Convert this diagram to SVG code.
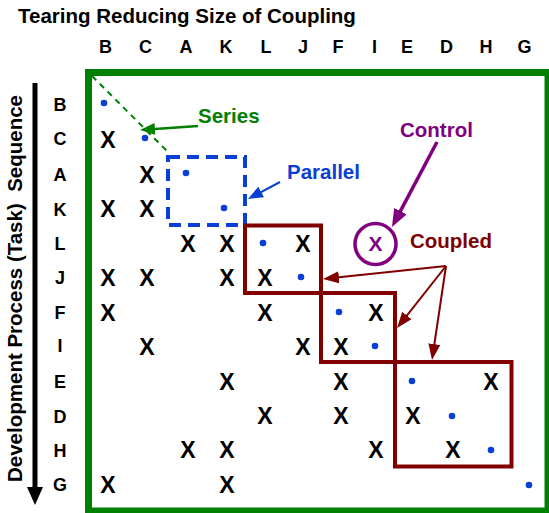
<svg xmlns="http://www.w3.org/2000/svg" width="549" height="513" viewBox="0 0 549 513">
  <style>
    text { font-family: "Liberation Sans", Arial, sans-serif; font-weight: bold; }
    .hdr { font-size: 18px; fill: #000; text-anchor: middle; }
    .title { font-size: 20.5px; fill: #000; }
    .axis { font-size: 20.5px; fill: #000; }
    .x { font-size: 23px; fill: #000; text-anchor: middle; }
    .dot { fill: #0a3fd6; }
    .lbl { font-size: 20.5px; }
    .green { fill: #008000; }
    .blue { fill: #0a3fd6; }
    .purple { fill: #800080; }
    .maroon { fill: #800000; }
    .box { fill: none; stroke: #800000; stroke-width: 4; }
  </style>
  <defs>
    <marker id="ah-green" markerUnits="userSpaceOnUse" markerWidth="15" markerHeight="12" refX="11" refY="6" orient="auto">
      <path d="M0,0 L15,6 L0,12 z" fill="#008000"/>
    </marker>
    <marker id="ah-blue" markerUnits="userSpaceOnUse" markerWidth="15" markerHeight="12" refX="11" refY="6" orient="auto">
      <path d="M0,0 L15,6 L0,12 z" fill="#0a3fd6"/>
    </marker>
    <marker id="ah-purple" markerUnits="userSpaceOnUse" markerWidth="18" markerHeight="14" refX="13" refY="7" orient="auto">
      <path d="M0,0 L18,7 L0,14 z" fill="#800080"/>
    </marker>
    <marker id="ah-maroon" markerUnits="userSpaceOnUse" markerWidth="16" markerHeight="12" refX="12" refY="6" orient="auto">
      <path d="M0,0 L16,6 L0,12 z" fill="#800000"/>
    </marker>
  </defs>

  <rect width="549" height="513" fill="#fff"/>

  <!-- title -->
  <text class="title" x="18" y="23">Tearing Reducing Size of Coupling</text>

  <!-- column headers -->
  <g id="columns">
    <text class="hdr" x="105.5" y="53">B</text>
    <text class="hdr" x="145.5" y="53">C</text>
    <text class="hdr" x="186" y="53">A</text>
    <text class="hdr" x="226" y="53">K</text>
    <text class="hdr" x="266" y="53">L</text>
    <text class="hdr" x="303" y="53">J</text>
    <text class="hdr" x="338" y="53">F</text>
    <text class="hdr" x="374.5" y="53">I</text>
    <text class="hdr" x="407" y="53">E</text>
    <text class="hdr" x="446.5" y="53">D</text>
    <text class="hdr" x="486" y="53">H</text>
    <text class="hdr" x="524.5" y="53">G</text>
  </g>

  <!-- row headers -->
  <g id="rows">
    <text class="hdr" x="60" y="111">B</text>
    <text class="hdr" x="60" y="145">C</text>
    <text class="hdr" x="60" y="181">A</text>
    <text class="hdr" x="60" y="216">K</text>
    <text class="hdr" x="60" y="250">L</text>
    <text class="hdr" x="60" y="284">J</text>
    <text class="hdr" x="60" y="319">F</text>
    <text class="hdr" x="60" y="352">I</text>
    <text class="hdr" x="60" y="388">E</text>
    <text class="hdr" x="60" y="423">D</text>
    <text class="hdr" x="60" y="457">H</text>
    <text class="hdr" x="60" y="491">G</text>
  </g>

  <!-- sequence axis -->
  <g id="axis">
    <text class="axis" transform="translate(22,482) rotate(-90)">Development Process (Task)</text>
    <text class="axis" text-anchor="end" transform="translate(22,95) rotate(-90)">Sequence</text>
    <rect x="32.5" y="83" width="5" height="406"/>
    <polygon points="27,487 43,487 35,505" fill="#000"/>
  </g>

  <!-- matrix frame -->
  <rect id="frame" x="88.5" y="72.5" width="459.5" height="438.5" fill="none" stroke="#008000" stroke-width="7"/>

  <!-- series diagonal -->
  <line x1="92" y1="76" x2="168" y2="152" stroke="#008000" stroke-width="2" stroke-dasharray="6 5"/>

  <!-- diagonal task dots -->
  <g id="diagonal">
    <circle class="dot" cx="104" cy="103" r="3.3"/>
    <circle class="dot" cx="145" cy="138" r="3.3"/>
    <circle class="dot" cx="186" cy="173" r="3.3"/>
    <circle class="dot" cx="224" cy="208" r="3.3"/>
    <circle class="dot" cx="263" cy="243" r="3.3"/>
    <circle class="dot" cx="301" cy="277" r="3.3"/>
    <circle class="dot" cx="339" cy="312" r="3.3"/>
    <circle class="dot" cx="375" cy="346" r="3.3"/>
    <circle class="dot" cx="412" cy="381" r="3.3"/>
    <circle class="dot" cx="452" cy="416" r="3.3"/>
    <circle class="dot" cx="491" cy="450" r="3.3"/>
    <circle class="dot" cx="529" cy="485" r="3.3"/>
  </g>

  <!-- dependency marks -->
  <g id="marks">
    <!-- row C -->
    <text class="x" x="108" y="148">X</text>
    <!-- row A -->
    <text class="x" x="147" y="183">X</text>
    <!-- row K -->
    <text class="x" x="108" y="217">X</text>
    <text class="x" x="147" y="217">X</text>
    <!-- row L -->
    <text class="x" x="188" y="252">X</text>
    <text class="x" x="227" y="252">X</text>
    <text class="x" x="303" y="252">X</text>
    <!-- row J -->
    <text class="x" x="108" y="286">X</text>
    <text class="x" x="147" y="286">X</text>
    <text class="x" x="227" y="286">X</text>
    <text class="x" x="265" y="286">X</text>
    <!-- row F -->
    <text class="x" x="108" y="321">X</text>
    <text class="x" x="265" y="321">X</text>
    <text class="x" x="376" y="321">X</text>
    <!-- row I -->
    <text class="x" x="147" y="355">X</text>
    <text class="x" x="303" y="355">X</text>
    <text class="x" x="341" y="355">X</text>
    <!-- row E -->
    <text class="x" x="227" y="390">X</text>
    <text class="x" x="341" y="390">X</text>
    <text class="x" x="491" y="390">X</text>
    <!-- row D -->
    <text class="x" x="265" y="424">X</text>
    <text class="x" x="341" y="424">X</text>
    <text class="x" x="413" y="424">X</text>
    <!-- row H -->
    <text class="x" x="188" y="458">X</text>
    <text class="x" x="227" y="458">X</text>
    <text class="x" x="376" y="458">X</text>
    <text class="x" x="453" y="458">X</text>
    <!-- row G -->
    <text class="x" x="108" y="493">X</text>
    <text class="x" x="227" y="493">X</text>
  </g>

  <!-- parallel block -->
  <rect id="parallel-box" x="168" y="157" width="77" height="68" fill="none" stroke="#0a3fd6" stroke-width="4" stroke-dasharray="12 7"/>

  <!-- coupled blocks -->
  <g id="coupled-blocks">
    <rect class="box" x="245" y="225.5" width="76" height="67.5"/>
    <rect class="box" x="321" y="293" width="74" height="69"/>
    <rect class="box" x="395" y="362" width="116.5" height="104.5"/>
  </g>

  <!-- control symbol -->
  <g id="control-symbol">
    <circle cx="375.5" cy="244" r="20.5" fill="none" stroke="#800080" stroke-width="3.5"/>
    <text class="purple" x="375.5" y="251" font-size="21" text-anchor="middle">X</text>
  </g>

  <!-- labels -->
  <g id="labels">
    <text class="lbl green" x="198" y="123">Series</text>
    <text class="lbl blue" x="287" y="179">Parallel</text>
    <text class="lbl purple" x="400" y="137" font-size="21">Control</text>
    <text class="lbl maroon" x="410" y="248">Coupled</text>
  </g>

  <!-- connectors -->
  <g id="connectors" fill="none">
    <line x1="198" y1="126" x2="144" y2="129.7" stroke="#008000" stroke-width="2.5" marker-end="url(#ah-green)"/>
    <line x1="280" y1="182" x2="251.5" y2="197.1" stroke="#0a3fd6" stroke-width="2" marker-end="url(#ah-blue)"/>
    <line x1="437" y1="142" x2="394.3" y2="222.6" stroke="#800080" stroke-width="3.5" marker-end="url(#ah-purple)"/>
    <line x1="446" y1="266" x2="327" y2="278.6" stroke="#800000" stroke-width="2" marker-end="url(#ah-maroon)"/>
    <line x1="446" y1="266" x2="399.5" y2="324.9" stroke="#800000" stroke-width="2" marker-end="url(#ah-maroon)"/>
    <line x1="446" y1="266" x2="432.6" y2="356" stroke="#800000" stroke-width="2" marker-end="url(#ah-maroon)"/>
  </g>
</svg>
